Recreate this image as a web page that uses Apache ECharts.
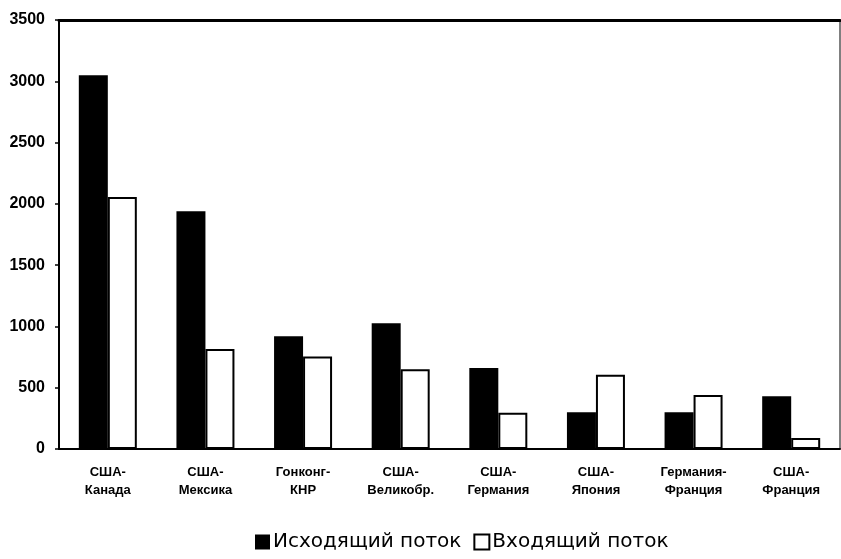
<!DOCTYPE html>
<html>
<head>
<meta charset="utf-8">
<script src="https://cdn.jsdelivr.net/npm/echarts@6/dist/echarts.min.js"></script>
<style>
  html, body { margin: 0; padding: 0; background: #fff; }
  #chart { width: 841px; height: 559px; }
</style>
</head>
<body>
<div id="chart"></div>
<script>
const categories = [
  "США-\nКанада",
  "США-\nМексика",
  "Гонконг-\nКНР",
  "США-\nВеликобр.",
  "США-\nГермания",
  "США-\nЯпония",
  "Германия-\nФранция",
  "США-\nФранция",
];
const outgoing = [3050, 1940, 920, 1025, 660, 300, 300, 430];
const incoming = [2055, 815, 755, 650, 295, 605, 440, 90];
const outName = "Исходящий поток";
const inName = "Входящий поток";

const chart = echarts.init(document.getElementById("chart"));

const option = {
  animation: false,
  textStyle: { fontFamily: "Liberation Sans, Arial, sans-serif", color: "#000" },
  grid: {
    left: 59,
    right: 1,
    top: 20,
    bottom: 110,
    show: true,
    borderColor: "#000",
    borderWidth: 1,
  },
  legend: {
    bottom: 2,
    left: 250,
    itemWidth: 15,
    itemHeight: 15,
    itemGap: 12,
    icon: "rect",
    textStyle: {
      fontFamily: "DejaVu Sans",
      fontSize: 20,
      color: "#000",
      padding: [0, 0, 0, -2],
    },
    data: [
      { name: outName, itemStyle: { color: "#000", borderWidth: 0 } },
      { name: inName, itemStyle: { color: "#fff", borderColor: "#000", borderWidth: 2 } },
    ],
  },
  xAxis: [
    {
      type: "category",
      data: categories,
      axisLine: { lineStyle: { color: "#000", width: 2 } },
      axisTick: { show: false },
      axisLabel: {
        color: "#000",
        fontSize: 13,
        fontWeight: "bold",
        lineHeight: 18,
        margin: 14,
        interval: 0,
      },
    },
    {
      type: "category",
      position: "top",
      data: categories,
      axisLine: { lineStyle: { color: "#000", width: 3 } },
      axisTick: { show: false },
      axisLabel: { show: false },
    },
  ],
  yAxis: {
    type: "value",
    min: 0,
    max: 3500,
    interval: 500,
    axisLine: { show: true, lineStyle: { color: "#000", width: 2 } },
    axisTick: { show: true, length: 4, lineStyle: { color: "#000", width: 1.5 } },
    splitLine: { show: false },
    axisLabel: {
      color: "#000",
      fontSize: 16,
      fontWeight: "bold",
      margin: 14,
      formatter: (v) => String(v),
    },
  },
  series: [
    {
      name: outName,
      type: "bar",
      data: outgoing,
      barWidth: 29,
      barGap: "0%",
      itemStyle: { color: "#000" },
    },
    {
      name: inName,
      type: "bar",
      data: incoming,
      barWidth: 29,
      itemStyle: { color: "#fff", borderColor: "#000", borderWidth: 2 },
    },
  ],
};

chart.setOption(option);
</script>
</body>
</html>
